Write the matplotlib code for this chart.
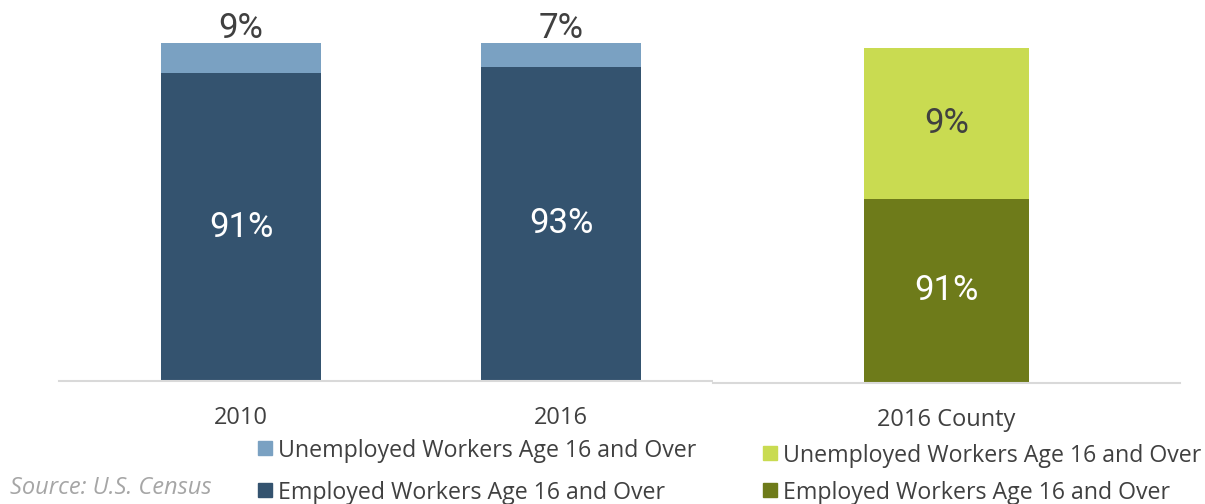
import matplotlib
matplotlib.use("Agg")
import matplotlib.pyplot as plt
from matplotlib.patches import Rectangle
import numpy as np

# data
years = ["2010", "2016"]
employed = [0.91, 0.93]
unemployed = [0.09, 0.07]
county_label = ["2016 County"]
county_employed = [0.91]
county_unemployed = [0.09]
series_names = ["Unemployed Workers Age 16 and Over", "Employed Workers Age 16 and Over"]

NAVY = "#34536f"
LIGHT_BLUE = "#7aa1c2"
OLIVE = "#6e7b1a"
LIME = "#c9db51"
TEXT = "#404040"

W, H = 1205, 504
fig = plt.figure(figsize=(W / 100, H / 100), dpi=100)

label_font = dict(family=["Roboto"], fontsize=25)
tick_font = dict(family=["Open Sans"], fontsize=17, color=TEXT)


def frame(ax):
    for s in ["top", "right", "left"]:
        ax.spines[s].set_visible(False)
    ax.spines["bottom"].set_color("#d9d9d9")
    ax.spines["bottom"].set_linewidth(1.5)
    ax.set_yticks([])
    ax.tick_params(axis="x", length=0, pad=18)


def legend_rows(x0, ys, colors, names):
    # small square marker + label, positions in pixels from the top-left
    for y, c, name in zip(ys, colors, names):
        fig.patches.append(Rectangle((x0 / W, 1 - (y + 7) / H), 14 / W, 14 / H,
                                     transform=fig.transFigure, color=c, figure=fig))
        fig.text((x0 + 20) / W, 1 - (y + 3) / H, name, ha="left", va="center",
                 family="Open Sans", fontsize=16.7, color=TEXT)


# left panel
ax1 = fig.add_axes([59 / W, 123 / H, 661 / W, 338 / H])
x = np.arange(len(years))
ax1.bar(x, employed, width=0.5, color=NAVY)
ax1.bar(x, unemployed, width=0.5, bottom=employed, color=LIGHT_BLUE)
ax1.set_xlim(-0.569, 1.497)
ax1.set_ylim(0, 1.0)
frame(ax1)
ax1.set_xticks(x)
ax1.set_xticklabels(years, **tick_font)
for i in range(len(years)):
    ax1.text(x[i], employed[i] / 2, f"{employed[i]:.0%}", ha="center", va="center",
             color="white", **label_font)
    ax1.text(x[i], employed[i] + unemployed[i] + 0.016, f"{unemployed[i]:.0%}",
             ha="center", va="baseline", color=TEXT, clip_on=False, **label_font)
legend_rows(258, [448, 490], [LIGHT_BLUE, NAVY], series_names)

# right panel
ax2 = fig.add_axes([713 / W, 121 / H, 467 / W, 335 / H])
xc = np.arange(len(county_label))
ax2.bar(xc, county_employed, width=0.355, color=OLIVE)
ax2.bar(xc, county_unemployed, width=0.355, bottom=county_employed, color=LIME)
ax2.set_xlim(-0.5, 0.5)
ax2.set_ylim(0.8, 1.0)
frame(ax2)
ax2.set_xticks(xc)
ax2.set_xticklabels(county_label, **tick_font)
for i in range(len(county_label)):
    ax2.text(xc[i], (0.8 + county_employed[i]) / 2, f"{county_employed[i]:.0%}", ha="center",
             va="center", color="white", **label_font)
    ax2.text(xc[i], county_employed[i] + county_unemployed[i] / 2, f"{county_unemployed[i]:.0%}",
             ha="center", va="center", color=TEXT, **label_font)
legend_rows(763, [453, 490], [LIME, OLIVE], series_names)

fig.text(10 / W, 1 - 488 / H, "Source: U.S. Census", ha="left", va="center",
         family="Open Sans", style="italic", fontsize=17, color="#a6a6a6")

fig.savefig("out.png", dpi=100)
